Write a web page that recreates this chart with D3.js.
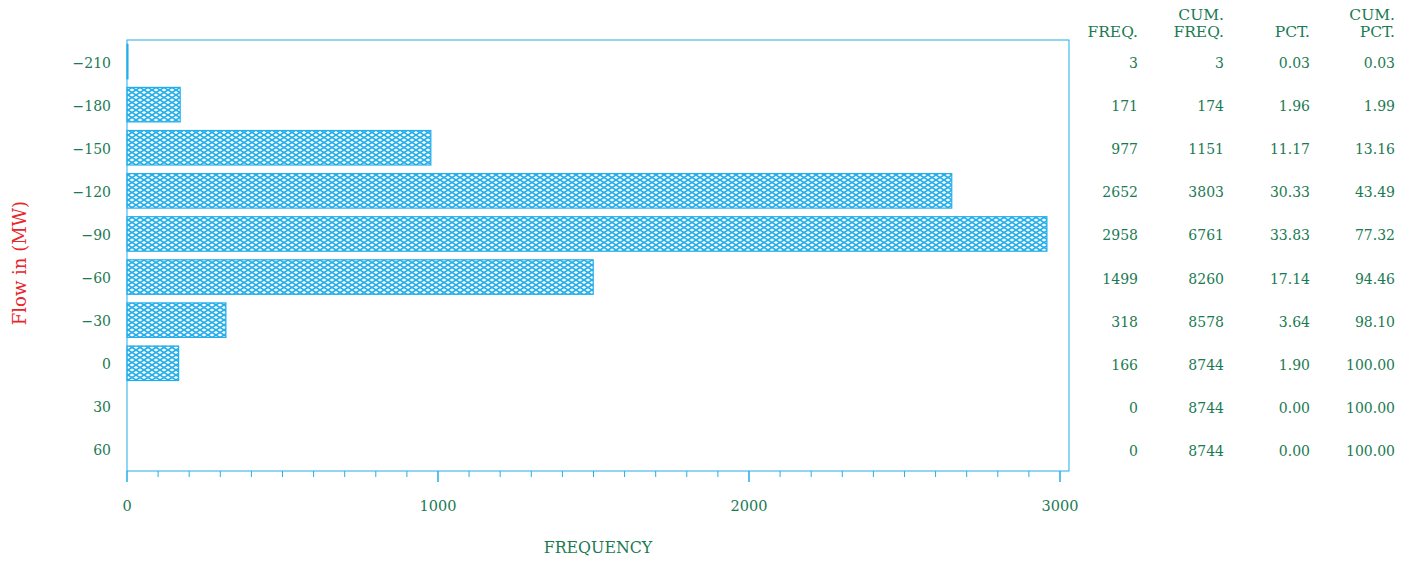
<!DOCTYPE html>
<html>
<head>
<meta charset="utf-8">
<script src="https://cdn.jsdelivr.net/npm/d3@7/dist/d3.min.js"></script>
<style>
  html, body { margin: 0; padding: 0; background: #fff; }
  svg { display: block; }
  text { font-family: "DejaVu Serif", serif; }
</style>
</head>
<body>
<svg id="chart" width="1415" height="562"></svg>
<script>
const flowLabels = ["\u2212210", "\u2212180", "\u2212150", "\u2212120", "\u221290", "\u221260", "\u221230", "0", "30", "60"];
const freq    = [3, 171, 977, 2652, 2958, 1499, 318, 166, 0, 0];
const cumFreq = [3, 174, 1151, 3803, 6761, 8260, 8578, 8744, 8744, 8744];
const pct     = ["0.03", "1.96", "11.17", "30.33", "33.83", "17.14", "3.64", "1.90", "0.00", "0.00"];
const cumPct  = ["0.03", "1.99", "13.16", "43.49", "77.32", "94.46", "98.10", "100.00", "100.00", "100.00"];
const xTicks  = [0, 1000, 2000, 3000];
const tableHeaders = [["", "FREQ."], ["CUM.", "FREQ."], ["", "PCT."], ["CUM.", "PCT."]];

const textColor = "#1b7a52";
const lineColor = "#22aeea";
const titleColor = "#e8262b";

const svg = d3.select("#chart");
const mLeft = 127, mRight = 1069, mTop = 40, mBottom = 471;

const x = d3.scaleLinear().domain([0, 3029]).range([mLeft, mRight]);
const y = d3.scaleBand().domain(d3.range(flowLabels.length)).range([mTop, mBottom])
  .paddingInner(0.2).paddingOuter(0.1);

// hatch pattern (diamond lattice)
const defs = svg.append("defs");
const pat = defs.append("pattern").attr("id", "hatch")
  .attr("patternUnits", "userSpaceOnUse").attr("width", 8).attr("height", 5);
pat.append("rect").attr("width", 8).attr("height", 5).attr("fill", "#fff");
pat.append("path").attr("d", "M0,0 L8,5 M0,5 L8,0")
  .attr("stroke", lineColor).attr("stroke-width", 1.5).attr("fill", "none");

// bars
svg.append("g").selectAll("rect").data(freq).join("rect")
  .attr("x", x(0))
  .attr("y", (d, i) => y(i))
  .attr("width", d => x(d) - x(0))
  .attr("height", y.bandwidth())
  .attr("fill", "url(#hatch)")
  .attr("stroke", lineColor)
  .attr("stroke-width", 1.2)
  .style("display", d => d > 0 ? null : "none");

// frame
svg.append("rect").attr("x", mLeft).attr("y", mTop)
  .attr("width", mRight - mLeft).attr("height", mBottom - mTop)
  .attr("fill", "none").attr("stroke", lineColor).attr("stroke-width", 1);

// x axis: minor + major ticks
const minor = d3.range(0, 3001, 100);
svg.append("g").selectAll("line").data(minor).join("line")
  .attr("x1", d => x(d)).attr("x2", d => x(d))
  .attr("y1", mBottom).attr("y2", d => d % 1000 === 0 ? mBottom + 11 : mBottom + 6)
  .attr("stroke", lineColor).attr("stroke-width", d => d % 1000 === 0 ? 1.5 : 1);

svg.append("g").selectAll("text").data(xTicks).join("text")
  .attr("x", d => x(d)).attr("y", 511)
  .attr("text-anchor", "middle").attr("fill", textColor)
  .attr("font-size", 14.5).text(d => d);

svg.append("text").attr("x", (mLeft + mRight) / 2).attr("y", 553)
  .attr("text-anchor", "middle").attr("fill", textColor)
  .attr("font-size", 15.8).text("FREQUENCY");

// y labels
svg.append("g").selectAll("text").data(flowLabels).join("text")
  .attr("x", 111).attr("y", (d, i) => y(i) + y.bandwidth() / 2 + 6)
  .attr("text-anchor", "end").attr("fill", textColor)
  .attr("font-size", 14).text(d => d);

svg.append("text")
  .attr("transform", "translate(26,263) rotate(-90)")
  .attr("text-anchor", "middle").attr("fill", titleColor)
  .attr("font-size", 18).text("Flow in (MW)");

// table
const colX = [1138, 1224, 1310, 1395];
const cols = [freq, cumFreq, pct, cumPct];
tableHeaders.forEach((h, c) => {
  svg.append("text").attr("x", colX[c]).attr("y", 20).attr("text-anchor", "end")
    .attr("fill", textColor).attr("font-size", 15.5).text(h[0]);
  svg.append("text").attr("x", colX[c]).attr("y", 37).attr("text-anchor", "end")
    .attr("fill", textColor).attr("font-size", 15.5).text(h[1]);
  svg.append("g").selectAll("text").data(cols[c]).join("text")
    .attr("x", colX[c]).attr("y", (d, i) => y(i) + y.bandwidth() / 2 + 6.5)
    .attr("text-anchor", "end").attr("fill", textColor)
    .attr("font-size", 14).text(d => d);
});
</script>
</body>
</html>
